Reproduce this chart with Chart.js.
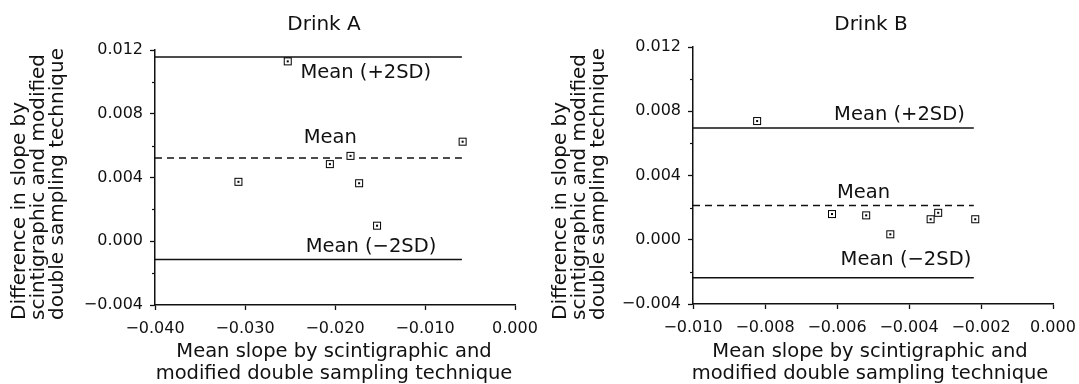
<!DOCTYPE html>
<html><head><meta charset="utf-8">
<script src="https://cdn.jsdelivr.net/npm/chart.js@4.4.1/dist/chart.umd.min.js"></script>
<style>
html,body{margin:0;padding:0;background:#fff;}
#wrap{position:relative;width:1079px;height:384px;overflow:hidden;background:#fff;}
canvas{position:absolute;top:0;}
</style></head><body>
<div id="wrap">
<canvas id="cA" width="540" height="384" style="left:0;width:540px;height:384px"></canvas>
<canvas id="cB" width="539" height="384" style="left:540px;width:539px;height:384px"></canvas>
</div>
<script>
// ---------- data ----------
const titleA = 'Drink A';
const titleB = 'Drink B';
const xA = [-0.02525, -0.00582, -0.01828, -0.02057, -0.03073, -0.01732, -0.01533];
const yA = [0.01129, 0.00625, 0.00536, 0.00484, 0.00373, 0.00364, 0.00098];
const xB = [-0.00822, -0.00614, -0.00519, -0.00452, -0.00340, -0.00319, -0.00216];
const yB = [0.00739, 0.00160, 0.00152, 0.00034, 0.00128, 0.00168, 0.00128];
const limitsA = [0.01156, 0.00522, -0.00114];   // mean+2SD, mean, mean-2SD
const limitsB = [0.00695, 0.00214, -0.00236];
const lineSpanA = [-0.040, -0.0059];
const lineSpanB = [-0.010, -0.0022];
const limitLabels = ['Mean (+2SD)', 'Mean', 'Mean (\u22122SD)'];
const xTicksA = [-0.04, -0.03, -0.02, -0.01, 0];
const xTickLabelsA = ['\u22120.040', '\u22120.030', '\u22120.020', '\u22120.010', '0.000'];
const xTicksB = [-0.010, -0.008, -0.006, -0.004, -0.002, 0];
const xTickLabelsB = ['\u22120.010', '\u22120.008', '\u22120.006', '\u22120.004', '\u22120.002', '0.000'];
const yTicks = [-0.004, -0.002, 0, 0.002, 0.004, 0.006, 0.008, 0.010, 0.012];
const yTickLabels = ['\u22120.004', '', '0.000', '', '0.004', '', '0.008', '', '0.012'];
const xTitle = ['Mean slope by scintigraphic and', 'modified double sampling technique'];
const yTitle = ['Difference in slope by', 'scintigraphic and modified', 'double sampling technique'];

// ---------- layout / style ----------
const INK = '#111';
const FONT = 'DejaVu Sans';
const layoutA = {
  area: {left: 155, right: 515, top: 50, bottom: 305}, canvasW: 540,
  titlePos: [324, 25], xTitleCenter: 334, xTitleY: [352, 374],
  yTitleX: [20, 39, 58], yTitleStart: 320,
  labelAnchors: [[-0.02383, 0.01057], [-0.02348, 0.00648], [-0.02326, -0.00038]]
};
const layoutB = {
  area: {left: 153, right: 513, top: 47, bottom: 304}, canvasW: 539,
  titlePos: [331, 25], xTitleCenter: 330, xTitleY: [352, 374],
  yTitleX: [21, 40, 59], yTitleStart: 320,
  labelAnchors: [[-0.00608, 0.00775], [-0.0060, 0.00294], [-0.0059, -0.00126]]
};

Chart.defaults.font.family = FONT;
Chart.defaults.color = INK;

function makeMarker() {
  const m = document.createElement('canvas');
  m.width = 10; m.height = 10;
  const g = m.getContext('2d');
  g.fillStyle = '#000'; g.fillRect(1, 1, 8, 8);
  g.fillStyle = '#fff'; g.fillRect(2, 2, 6, 6);
  g.fillStyle = '#000'; g.fillRect(4, 4, 2, 2);
  return m;
}
const marker = makeMarker();

function makeChart(id, title, L, xs, ys, limits, span, xTicks, xTickLabels) {
  const pts = xs.map((x, i) => ({x: x, y: ys[i]}));
  const lineDs = (v, dash) => ({
    type: 'line', data: [{x: span[0], y: v}, {x: span[1], y: v}],
    borderColor: INK, borderWidth: 1.5, borderDash: dash, pointRadius: 0,
    fill: false, tension: 0, order: 2
  });
  const deco = {
    id: 'deco',
    afterDraw(chart) {
      const c = chart.ctx, xs_ = chart.scales.x, ys_ = chart.scales.y;
      c.save();
      c.fillStyle = INK;
      // minor y ticks
      c.strokeStyle = INK; c.lineWidth = 1.2;
      yTicks.forEach((v, i) => {
        if (yTickLabels[i] === '') {
          const py = Math.round(ys_.getPixelForValue(v)) + 0.5;
          c.beginPath(); c.moveTo(chart.chartArea.left - 3, py); c.lineTo(chart.chartArea.left, py); c.stroke();
        }
      });
      // title
      c.font = '20px "' + FONT + '"';
      c.textAlign = 'center'; c.textBaseline = 'middle';
      c.fillText(title, L.titlePos[0], L.titlePos[1]);
      // x title
      c.font = '19.5px "' + FONT + '"';
      xTitle.forEach((t, i) => c.fillText(t, L.xTitleCenter, L.xTitleY[i]));
      // y title
      c.font = '20px "' + FONT + '"';
      yTitle.forEach((t, i) => {
        c.save();
        c.translate(L.yTitleX[i], L.yTitleStart);
        c.rotate(-Math.PI / 2);
        c.textAlign = 'left'; c.textBaseline = 'middle';
        c.fillText(t, 0, 0);
        c.restore();
      });
      // limit line labels
      c.font = '19.5px "' + FONT + '"';
      c.textAlign = 'left'; c.textBaseline = 'middle';
      limitLabels.forEach((t, i) => {
        const a = L.labelAnchors[i];
        c.fillText(t, xs_.getPixelForValue(a[0]), ys_.getPixelForValue(a[1]));
      });
      c.restore();
    }
  };
  return new Chart(document.getElementById(id), {
    type: 'scatter',
    data: {
      datasets: [
        lineDs(limits[0], []),
        lineDs(limits[1], [7, 5]),
        lineDs(limits[2], []),
        {data: pts, pointStyle: marker, pointRadius: 4, showLine: false, order: 0}
      ]
    },
    options: {
      responsive: false, animation: false, devicePixelRatio: 1,
      layout: {padding: {left: 0, top: L.area.top, right: L.canvasW - L.area.right, bottom: 0}},
      plugins: {legend: {display: false}, tooltip: {enabled: false}, title: {display: false}},
      scales: {
        x: {
          type: 'linear', min: xTicks[0], max: xTicks[xTicks.length - 1],
          afterBuildTicks: s => { s.ticks = xTicks.map(v => ({value: v})); },
          afterFit: s => { s.height = 384 - L.area.bottom; s.paddingLeft = 0; s.paddingRight = 0; },
          grid: {display: true, drawOnChartArea: false, drawTicks: true, tickLength: 5, tickColor: INK, tickWidth: 1.3},
          border: {display: true, color: INK, width: 1.5},
          ticks: {font: {size: 16}, color: INK, padding: 9, maxRotation: 0, autoSkip: false,
                  callback: (v, i) => xTickLabels[i]}
        },
        y: {
          type: 'linear', min: yTicks[0], max: yTicks[yTicks.length - 1],
          afterBuildTicks: s => { s.ticks = yTicks.filter((v, i) => yTickLabels[i] !== '').map(v => ({value: v})); },
          afterFit: s => { s.width = L.area.left; s.paddingTop = 0; s.paddingBottom = 0; },
          grid: {display: true, drawOnChartArea: false, drawTicks: true, tickLength: 5, tickColor: INK, tickWidth: 1.3},
          border: {display: true, color: INK, width: 1.5},
          ticks: {font: {size: 16}, color: INK, padding: 7, autoSkip: false,
                  callback: (v, i) => yTickLabels.filter(t => t !== '')[i]}
        }
      }
    },
    plugins: [deco]
  });
}

makeChart('cA', titleA, layoutA, xA, yA, limitsA, lineSpanA, xTicksA, xTickLabelsA);
makeChart('cB', titleB, layoutB, xB, yB, limitsB, lineSpanB, xTicksB, xTickLabelsB);
</script>
</body></html>
